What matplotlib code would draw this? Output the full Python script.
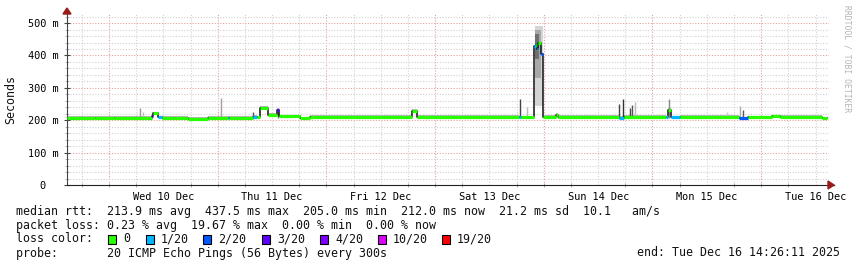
import numpy as np
import matplotlib.pyplot as plt
from matplotlib.patches import Polygon, Rectangle

plt.rcParams['font.family'] = ['DejaVu Sans Mono', 'DejaVu Sans']

# time axis: hours since Wed 10 Dec 2025 00:00, rtt in ms
t_start = -9.27
t_end = 158.44

# median rtt, step segments (start hour, rtt ms, loss class index)
seg_start = [-9.27, -3.0, 1.0, 9.4, 9.7, 10.8, 11.7, 17.4, 21.9, 26.2, 26.6,
             31.8, 32.7, 33.3, 35.1, 37.1, 37.5, 42.2, 44.4, 66.9, 67.9,
             90.5, 91.0, 93.9, 94.3, 94.5, 94.8, 95.3, 95.8, 98.8, 99.2,
             112.5, 113.7, 123.0, 123.5, 124.1, 126.1, 139.2, 141.1, 146.4,
             148.2, 157.4]
seg_rtt = [208, 207, 208, 214, 221, 209, 208, 205, 208, 208, 208,
           210, 209, 238, 216, 232, 212, 206, 210, 229, 210,
           209, 209, 428, 432, 420, 437, 405, 210, 217, 210,
           208, 210, 209, 232, 209, 210, 206, 209, 212,
           210, 206]
seg_loss = [0, 0, 0, 3, 0, 1, 0, 0, 0, 1, 0,
            1, 0, 0, 0, 3, 0, 0, 0, 0, 0,
            1, 0, 1, 0, 1, 0, 2, 0, 0, 0,
            1, 0, 1, 0, 1, 0, 2, 0, 0,
            0, 0]

# single ping outliers (smoke spikes): hour, top rtt, gray shade
spike_t = [6.84, 7.5, 24.7, 31.8, 37.3, 90.8, 92.3, 112.6, 113.4, 115.0,
           115.4, 116.1, 123.7, 136.5, 139.4, 140.0]
spike_top = [237, 226, 270, 226, 230, 265, 240, 250, 267, 237,
             247, 257, 265, 226, 244, 231]
spike_shade = ['#999999', '#bbbbbb', '#a0a0a0', '#555555', '#777777', '#444444',
               '#bbbbbb', '#444444', '#333333', '#444444', '#555555', '#bbbbbb',
               '#888888', '#cccccc', '#aaaaaa', '#555555']

# big spike on Sat 13 Dec: smoke layers
burst_t0 = [94.0, 94.0, 94.0]
burst_t1 = [95.9, 95.4, 94.9]
burst_lo = [245, 330, 390]
burst_hi = [490, 478, 465]
burst_shade = ['#d4d4d4', '#a8a8a8', '#707070']

loss_colors = ['#26ff00', '#00b8ff', '#0059ff', '#5e00ff', '#7e00ff', '#dd00ff', '#ff0000']
loss_labels = ['0', '1/20', '2/20', '3/20', '4/20', '10/20', '19/20']

day_labels = ['Wed 10 Dec', 'Thu 11 Dec', 'Fri 12 Dec', 'Sat 13 Dec',
              'Sun 14 Dec', 'Mon 15 Dec', 'Tue 16 Dec']
y_ticks = [0, 100, 200, 300, 400, 500]
y_labels = ['0  ', '100 m', '200 m', '300 m', '400 m', '500 m']

W, H = 857, 267
AXFS = 7.4   # axis labels
LGFS = 8.4   # legend text

fig = plt.figure(figsize=(W / 100, H / 100), dpi=100)
fig.patch.set_facecolor('white')
ax = fig.add_axes([67 / W, (H - 185) / H, (829 - 67) / W, (185 - 14) / H])
ax.set_xlim(t_start, 158.97)
ax.set_ylim(0, 528)

# grid
for h in np.arange(-6, 159, 6):
    major = (h % 24 == 0)
    ax.axvline(h, color='#e4a0a0' if major else '#d2d2d2', lw=0.8,
               linestyle=(0, (1, 1.5)), zorder=0)
for v in range(20, 521, 20):
    major = (v % 100 == 0)
    ax.axhline(v, color='#e4a0a0' if major else '#d2d2d2', lw=0.8,
               linestyle=(0, (1, 1.5)), zorder=0)

# smoke around the median
ends = seg_start[1:] + [t_end]
for s, e, v in zip(seg_start, ends, seg_rtt):
    ax.fill_between([s, e], [v - 3, v - 3], [v + 5, v + 5], color='#b8b8b8', lw=0, zorder=1)
ax.vlines(spike_t, [208] * len(spike_t), spike_top, colors=spike_shade, lw=1.0, zorder=1)
for t0, t1, lo, hi, c in zip(burst_t0, burst_t1, burst_lo, burst_hi, burst_shade):
    ax.fill_between([t0, t1], [lo, lo], [hi, hi], color=c, lw=0, zorder=1)

# median line: black steps underneath, coloured by loss on top
ax.step(seg_start + [t_end], seg_rtt + [seg_rtt[-1]], where='post', color='#111111', lw=1.1, zorder=2)
for s, e, v, l in zip(seg_start, ends, seg_rtt, seg_loss):
    ax.plot([s, e], [v, v], color=loss_colors[l], lw=2.3, solid_capstyle='butt', zorder=3)

# axes look
for sp in ['top', 'right']:
    ax.spines[sp].set_visible(False)
ax.spines['left'].set_color('#444444')
ax.spines['bottom'].set_color('#222222')
ax.set_yticks(y_ticks, y_labels, fontsize=AXFS)
ax.set_yticks(range(20, 521, 20), minor=True)
ax.set_xticks([12 + 24 * k for k in range(7)], day_labels, fontsize=AXFS)
ax.set_xticks(np.arange(-6, 159, 6), minor=True)
ax.tick_params(axis='x', which='major', length=0, pad=5)
ax.tick_params(axis='x', which='minor', length=3, direction='inout', color='#999999')
ax.tick_params(axis='y', which='major', length=4, direction='inout', color='#444444', pad=4)
ax.tick_params(axis='y', which='minor', length=3, direction='inout', color='#aaaaaa')

# arrows
fig.add_artist(Polygon([(63, H - 14), (71, H - 14), (67, H - 8)], closed=True,
                       transform=None, color='#9b1b1b'))
fig.add_artist(Polygon([(828, H - 181), (828, H - 189), (834, H - 185)], closed=True,
                       transform=None, color='#9b1b1b'))
ax.plot([1, 1.007], [0, 0], transform=ax.transAxes, color='#222222', lw=1, clip_on=False)


def ftext(x, y, s, **kw):
    fig.text(x / W, 1 - y / H, s, va='center', fontsize=LGFS, color='#111111', **kw)


ftext(11, 99, 'Seconds', rotation=90, ha='center')
fig.text(847 / W, 1 - 59 / H, 'RRDTOOL / TOBI OETIKER', rotation=270, ha='center',
         va='center', fontsize=5.8, color='#b4b4b4')

# legend rows
ftext(16, 211, 'median rtt:  213.9 ms avg  437.5 ms max  205.0 ms min  '
               '212.0 ms now  21.2 ms sd  10.1   am/s')
ftext(16, 225, 'packet loss: 0.23 % avg  19.67 % max  0.00 % min  0.00 % now')
ftext(16, 239, 'loss color:')
box_x = [108, 146, 203, 262, 320, 378, 442]
for bx, c, lab in zip(box_x, loss_colors, loss_labels):
    fig.add_artist(Rectangle((bx, H - 244), 8, 9, transform=None,
                             facecolor=c, edgecolor='black', lw=0.8))
    ftext(bx + 15, 239, lab)
ftext(16, 253, 'probe:       20 ICMP Echo Pings (56 Bytes) every 300s')
ftext(840, 253, 'end: Tue Dec 16 14:26:11 2025', ha='right')

fig.savefig('out.png', dpi=100)
